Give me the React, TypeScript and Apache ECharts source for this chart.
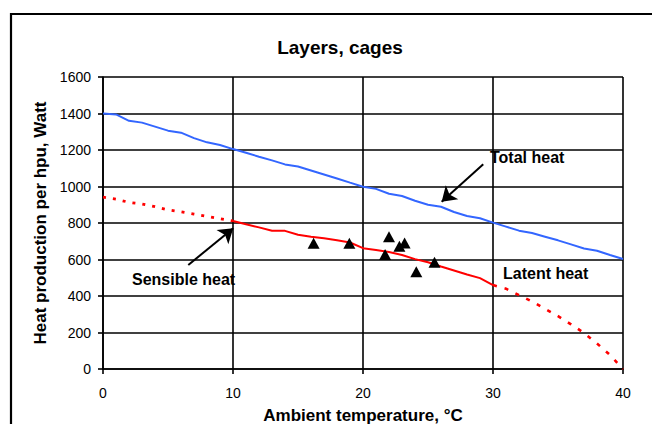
import React, { useEffect, useRef } from "react";
import * as echarts from "echarts";

const totalX = [0,1,2,3,4,5,6,7,8,9,10,11,12,13,14,15,16,17,18,19,20,21,22,23,24,25,26,27,28,29,30,31,32,33,34,35,36,37,38,39,40];
const totalHeat = [1400,1395,1360,1350,1328,1306,1295,1265,1242,1227,1205,1185,1163,1143,1121,1110,1088,1066,1044,1021,999,987,960,948,922,900,889,860,838,826,802,780,758,745,725,705,683,660,648,625,603];

const sensLowX = [0,1,2,3,4,5,6,7,8,9,10];
const sensLow = [942,931,913,904,890,872,861,849,836,823,811];

const sensMidX = [10,11,12,13,14,15,16,17,18,19,20,21,22,23,24,25,26,27,28,29,30];
const sensMid = [811,793,776,758,757,736,725,716,705,693,662,652,641,625,602,585,562,540,518,498,460];

const latentX = [30,31,32,33,34,35,36,37,38,39,40];
const latent = [460,440,405,370,330,290,245,197,140,77,0];

const obsX = [16.2,18.95,22.0,23.2,22.8,21.7,25.5,24.1];
const obsY = [689,689,725,690,672,628,585,533];

const xTicks = { min: 0, max: 40, interval: 10 };
const yTicks = { min: 0, max: 1600, interval: 200 };

const titleText = "Layers, cages";
const xName = "Ambient temperature, °C";
const yName = "Heat production per hpu, Watt";

const zip = (xs: number[], ys: number[]) => xs.map((x, i) => [x, ys[i]]);

const FONT = "'Liberation Sans', Arial, sans-serif";

export default function App() {
  const ref = useRef<HTMLDivElement>(null);
  useEffect(() => {
    document.body.style.margin = "0";
    const chart = echarts.init(ref.current!, null, { renderer: "svg" });
    const gridLine = { lineStyle: { color: "#000", width: 1.6 } };
    chart.setOption({
      animation: false,
      backgroundColor: "#fff",
      textStyle: { fontFamily: FONT },
      grid: { left: 103, right: 29, top: 77, bottom: 55, containLabel: false, outerBoundsMode: "none" },
      xAxis: {
        type: "value",
        ...xTicks,
        name: xName,
        nameLocation: "middle",
        nameGap: 38,
        nameTextStyle: { fontFamily: FONT, fontSize: 17, fontWeight: "bold", color: "#000" },
        axisLine: { show: true, onZero: false, lineStyle: { color: "#000", width: 1.6 } },
        axisTick: { show: true, length: 5, lineStyle: { color: "#000", width: 1.6 } },
        axisLabel: { fontFamily: FONT, fontSize: 14, color: "#000", margin: 17, formatter: (v: number) => String(v) },
        splitLine: { show: true, ...gridLine },
      },
      yAxis: {
        type: "value",
        ...yTicks,
        name: yName,
        nameLocation: "middle",
        nameGap: 45,
        nameTextStyle: { fontFamily: FONT, fontSize: 17, fontWeight: "bold", color: "#000" },
        axisLine: { show: true, lineStyle: { color: "#000", width: 1.6 } },
        axisTick: { show: true, length: 5, lineStyle: { color: "#000", width: 1.6 } },
        axisLabel: { fontFamily: FONT, fontSize: 14, color: "#000", margin: 12, formatter: (v: number) => String(v) },
        splitLine: { show: true, ...gridLine },
      },
      graphic: [
        {
          type: "rect",
          shape: { x: 11, y: 14, width: 700, height: 500 },
          style: { fill: "none", stroke: "#000", lineWidth: 2.2 },
          silent: true,
        },
        {
          type: "text",
          x: 340,
          y: 47,
          style: { text: titleText, fontFamily: FONT, fontSize: 19, fontWeight: "bold", fill: "#000", align: "center", verticalAlign: "middle" },
        },
        {
          type: "text",
          x: 490,
          y: 157,
          style: { text: "Total heat", fontFamily: FONT, fontSize: 16, fontWeight: "bold", fill: "#000", align: "left", verticalAlign: "middle" },
        },
        {
          type: "text",
          x: 503,
          y: 273,
          style: { text: "Latent heat", fontFamily: FONT, fontSize: 16, fontWeight: "bold", fill: "#000", align: "left", verticalAlign: "middle" },
        },
        {
          type: "text",
          x: 132,
          y: 279,
          style: { text: "Sensible heat", fontFamily: FONT, fontSize: 16, fontWeight: "bold", fill: "#000", align: "left", verticalAlign: "middle" },
        },
      ],
      series: [
        {
          type: "line",
          name: "Total heat",
          data: zip(totalX, totalHeat),
          showSymbol: false,
          symbol: "none",
          lineStyle: { color: "#3366ff", width: 2 },
          z: 3,
        },
        {
          type: "line",
          name: "Sensible heat (extrapolated)",
          data: zip(sensLowX, sensLow),
          symbol: "none",
          lineStyle: { color: "#ff0000", width: 2.8, type: [3, 7] },
          z: 3,
        },
        {
          type: "line",
          name: "Sensible heat",
          data: zip(sensMidX, sensMid),
          symbol: "none",
          lineStyle: { color: "#ff0000", width: 2 },
          z: 3,
        },
        {
          type: "line",
          name: "Sensible heat (high)",
          data: zip(latentX, latent),
          symbol: "none",
          lineStyle: { color: "#ff0000", width: 2.6, type: [4, 8] },
          z: 3,
        },
        {
          type: "scatter",
          name: "Measured",
          data: zip(obsX, obsY),
          symbol: "triangle",
          symbolSize: [12, 11],
          itemStyle: { color: "#000", opacity: 1 },
          z: 4,
          markLine: {
            silent: true,
            symbol: ["none", "arrow"],
            symbolSize: 14,
            label: { show: false },
            lineStyle: { color: "#000", width: 2, type: "solid", opacity: 1 },
            data: [
              [{ coord: [29.25, 1122] }, { coord: [26.05, 917] }],
              [{ coord: [6.56, 570] }, { coord: [10.02, 771] }],
            ],
          },
        },
      ],
    });
    return () => chart.dispose();
  }, []);
  return <div ref={ref} style={{ width: 652, height: 424 }} />;
}
